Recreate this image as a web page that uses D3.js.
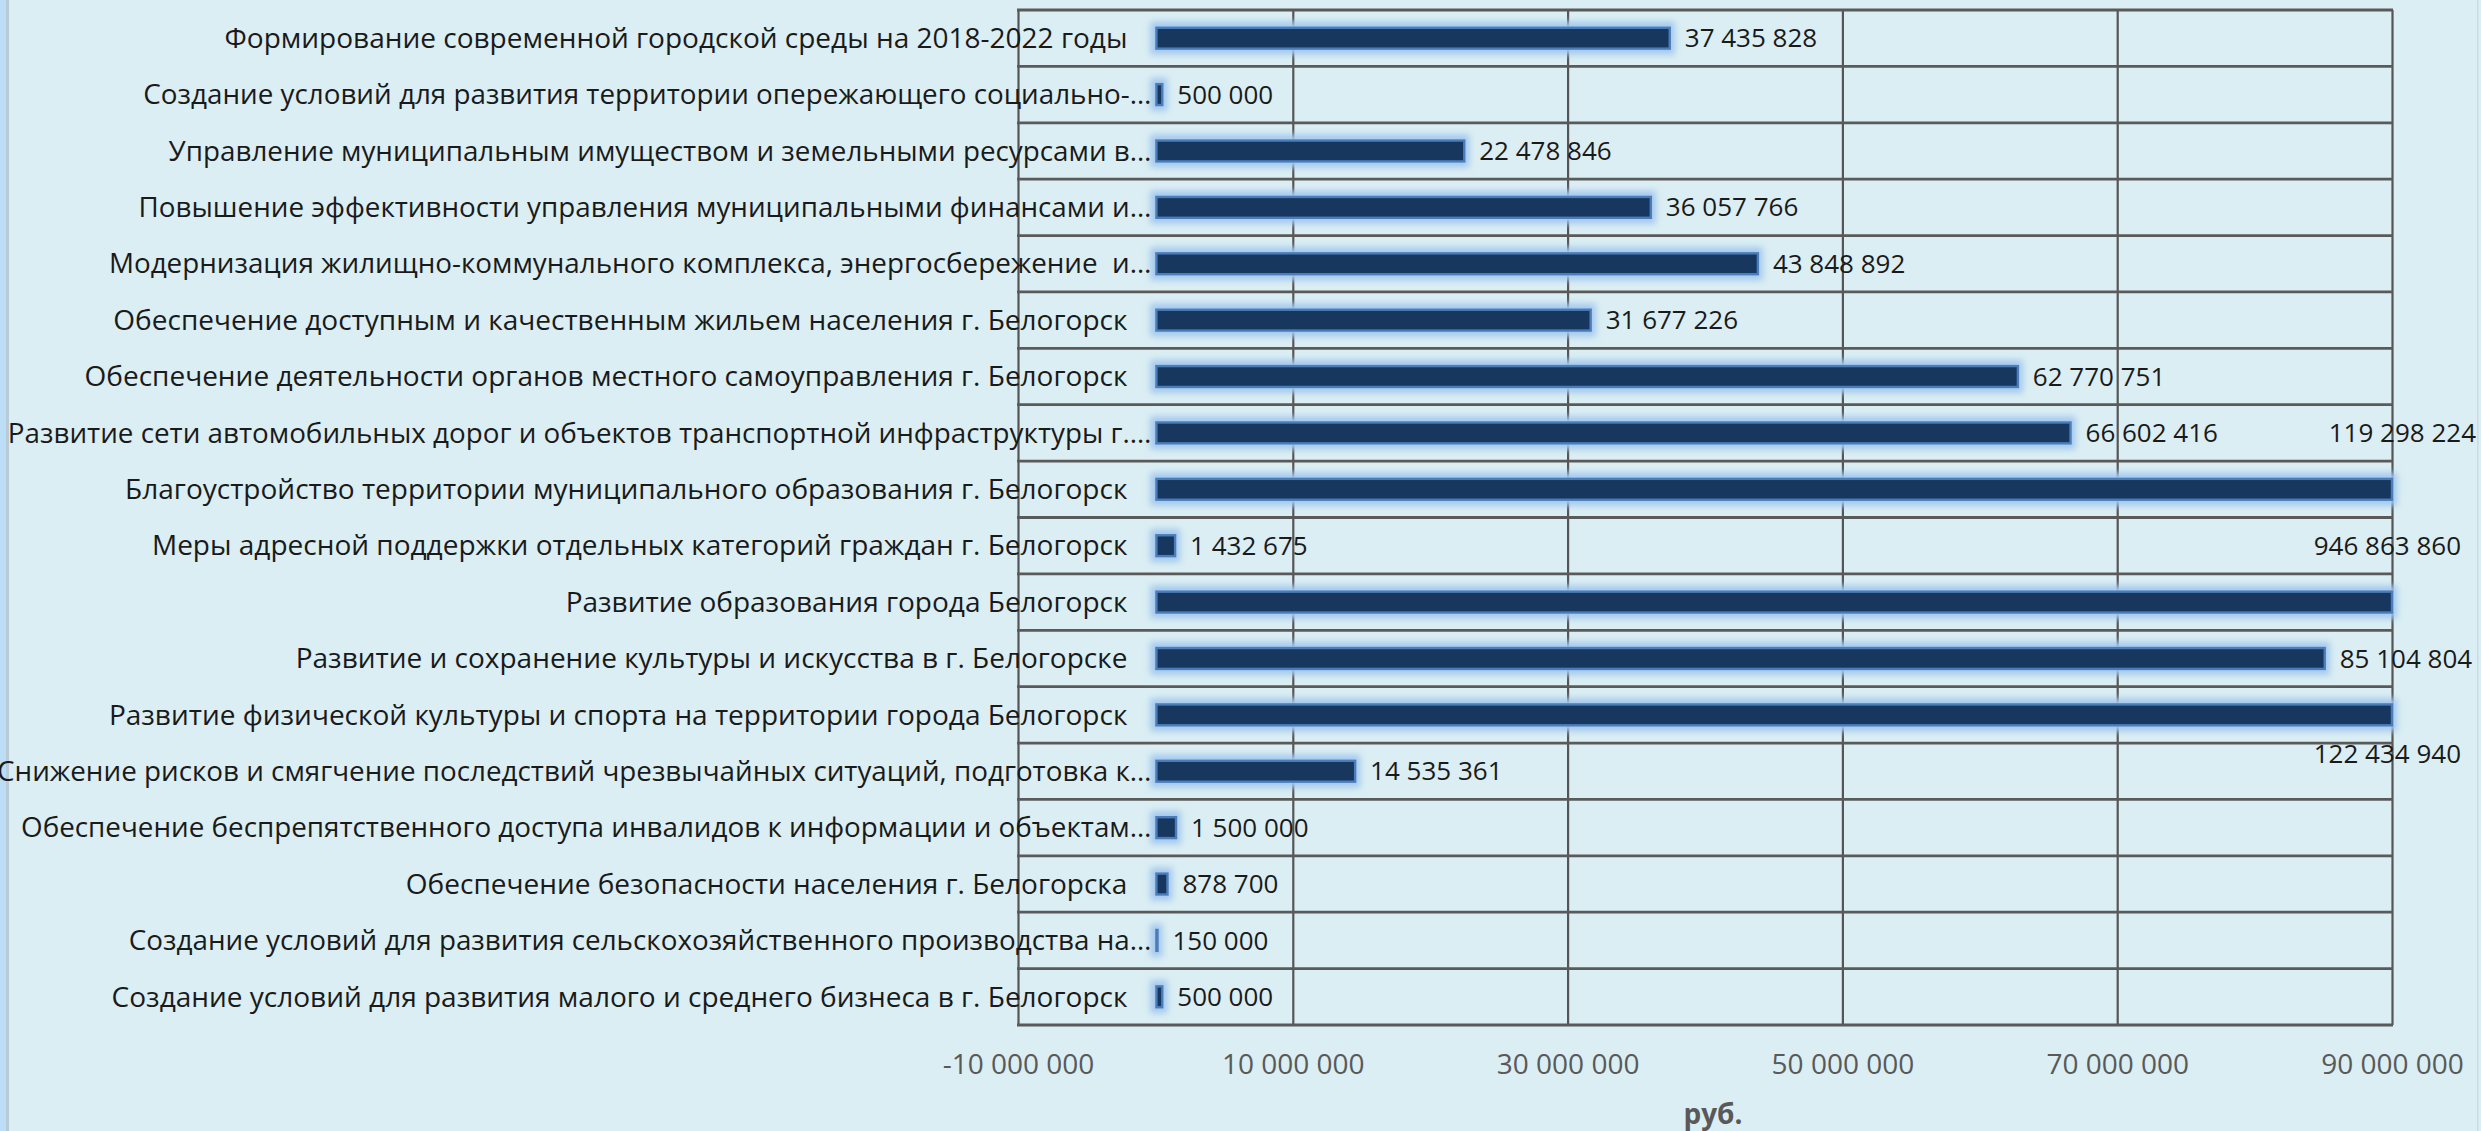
<!DOCTYPE html>
<html>
<head>
<meta charset="utf-8">
<script src="https://cdn.jsdelivr.net/npm/d3@7"></script>
<style>
  html, body { margin: 0; padding: 0; background: #DAEEF3; }
  svg { display: block; }
  text { font-family: "Open Sans", "Noto Sans", sans-serif; white-space: pre; }
</style>
</head>
<body>
<script>
// programmes (top to bottom as in the chart)
let programs = [
    "Формирование современной городской среды на 2018-2022 годы",
    "Создание условий для развития территории опережающего социально-…",
    "Управление муниципальным имуществом и земельными ресурсами в…",
    "Повышение эффективности управления муниципальными финансами и…",
    "Модернизация жилищно-коммунального комплекса, энергосбережение  и…",
    "Обеспечение доступным и качественным жильем населения г. Белогорск",
    "Обеспечение деятельности органов местного самоуправления г. Белогорск",
    "Развитие сети автомобильных дорог и объектов транспортной инфраструктуры г.…",
    "Благоустройство территории муниципального образования г. Белогорск",
    "Меры адресной поддержки отдельных категорий граждан г. Белогорск",
    "Развитие образования города Белогорск",
    "Развитие и сохранение культуры и искусства в г. Белогорске",
    "Развитие физической культуры и спорта на территории города Белогорск",
    "Снижение рисков и смягчение последствий чрезвычайных ситуаций, подготовка к…",
    "Обеспечение беспрепятственного доступа инвалидов к информации и объектам…",
    "Обеспечение безопасности населения г. Белогорска",
    "Создание условий для развития сельскохозяйственного производства на…",
    "Создание условий для развития малого и среднего бизнеса в г. Белогорск"
];
let amounts = [
    37435828, 500000, 22478846, 36057766, 43848892, 31677226, 62770751, 66602416,
    119298224, 1432675, 946863860, 85104804, 122434940, 14535361, 1500000, 878700,
    150000, 500000
];
let xTicks = [-10000000, 10000000, 30000000, 50000000, 70000000, 90000000];
let xDomain = [-10000000, 90000000];
let axisTitle = "руб.";

let width = 2481;
let height = 1131;
let margin = ({top: 10, right: 89, bottom: 106, left: 1018});

let data = programs.map((name, i) => ({name: name, value: amounts[i]}));

let ru = d3.formatLocale({decimal: ",", thousands: "\u00a0", grouping: [3], currency: ["", ""], minus: "-"});
let fmt = ru.format(",d");

let svg = d3.select("body").append("svg").attr("width", width).attr("height", height);

svg.append("rect").attr("width", width).attr("height", height).attr("fill", "#DAEEF3");
// window edge strips
svg.append("rect").attr("x", 0).attr("y", 0).attr("width", 6).attr("height", height).attr("fill", "#BCDDF6");
svg.append("rect").attr("x", 6).attr("y", 0).attr("width", 3).attr("height", height).attr("fill", "#B9CBD6");
svg.append("rect").attr("x", width - 4).attr("y", 0).attr("width", 1.5).attr("height", height).attr("fill", "#C9DBE3");

let x = d3.scaleLinear()
    .domain(xDomain)
    .range([margin.left, width - margin.right])
    .clamp(true);

let y = d3.scaleBand()
    .domain(data.map(d => d.name))
    .range([margin.top, height - margin.bottom]);

let barH = y.bandwidth() * 0.37;

// vertical gridlines + x labels
let xAxis = svg.append("g")
    .attr("transform", `translate(0,${height - margin.bottom})`)
    .call(d3.axisBottom(x)
        .tickValues(xTicks)
        .tickFormat(fmt)
        .tickSize(-(height - margin.top - margin.bottom))
        .tickPadding(29));
xAxis.select(".domain").remove();
xAxis.selectAll(".tick line").attr("stroke", "#555").attr("stroke-width", 2.2);
xAxis.selectAll(".tick text")
    .attr("fill", "#595959")
    .attr("font-size", 28)
    .attr("font-family", "Open Sans");

// horizontal lines between categories
let rowEdges = data.map(d => y(d.name)).concat([y.range()[1]]);
svg.append("g")
    .selectAll("line")
    .data(rowEdges)
    .join("line")
    .attr("x1", x(xDomain[0]) - 1)
    .attr("x2", x(xDomain[1]) + 1)
    .attr("y1", d => d)
    .attr("y2", d => d)
    .attr("stroke", "#5a5a5a")
    .attr("stroke-width", 2.8);

// glow filter
let defs = svg.append("defs");
defs.append("filter")
    .attr("id", "glow")
    .attr("x", "-50%").attr("y", "-100%")
    .attr("width", "200%").attr("height", "300%")
    .append("feGaussianBlur")
    .attr("stdDeviation", 3.2);

let bars = svg.append("g");
bars.selectAll("rect.glow")
    .data(data)
    .join("rect")
    .attr("class", "glow")
    .attr("x", x(0) - 5)
    .attr("y", d => y(d.name) + (y.bandwidth() - barH) / 2 - 6)
    .attr("width", d => x(d.value) - x(0) + 10)
    .attr("height", barH + 12)
    .attr("fill", "#A4C8EE")
    .attr("filter", "url(#glow)");

bars.selectAll("rect.bar")
    .data(data)
    .join("rect")
    .attr("class", "bar")
    .attr("x", x(0) + 1)
    .attr("y", d => y(d.name) + (y.bandwidth() - barH) / 2)
    .attr("width", d => Math.max(x(d.value) - x(0) - 1, 0.5))
    .attr("height", barH)
    .attr("fill", "#17375E")
    .attr("stroke", "#4A7EBB")
    .attr("stroke-width", 2.4);

// category labels (anchored to the value 0 axis); truncated ones sit closer
svg.append("g")
    .selectAll("text")
    .data(data)
    .join("text")
    .attr("x", d => x(0) - (d.name.endsWith("…") ? 4 : 28))
    .attr("y", d => y(d.name) + y.bandwidth() / 2)
    .attr("dy", "0.35em")
    .attr("text-anchor", "end")
    .attr("font-size", d => d.name.endsWith("…") ? 27.8 : 28)
    .attr("fill", "#1a1a1a")
    .text(d => d.name);

// value labels; clipped bars get Excel's shifted labels
let clippedShift = {8: [84, -1], 10: [69, -1], 12: [69, 0.69]};
svg.append("g")
    .selectAll("text")
    .data(data)
    .join("text")
    .attr("x", (d, i) => clippedShift[i] ? x(xDomain[1]) + clippedShift[i][0] : x(d.value) + 15)
    .attr("y", (d, i) => y(d.name) + y.bandwidth() / 2 + (clippedShift[i] ? clippedShift[i][1] * y.bandwidth() : 0))
    .attr("dy", "0.35em")
    .attr("text-anchor", (d, i) => clippedShift[i] ? "end" : "start")
    .attr("font-size", 26)
    .attr("fill", "#1a1a1a")
    .text(d => fmt(d.value));

// axis title
svg.append("text")
    .attr("x", (x.range()[0] + x.range()[1]) / 2 + 8)
    .attr("y", 1114)
    .attr("dy", "0.35em")
    .attr("text-anchor", "middle")
    .attr("font-size", 28)
    .attr("font-weight", "bold")
    .attr("fill", "#595959")
    .text(axisTitle);
</script>
</body>
</html>
